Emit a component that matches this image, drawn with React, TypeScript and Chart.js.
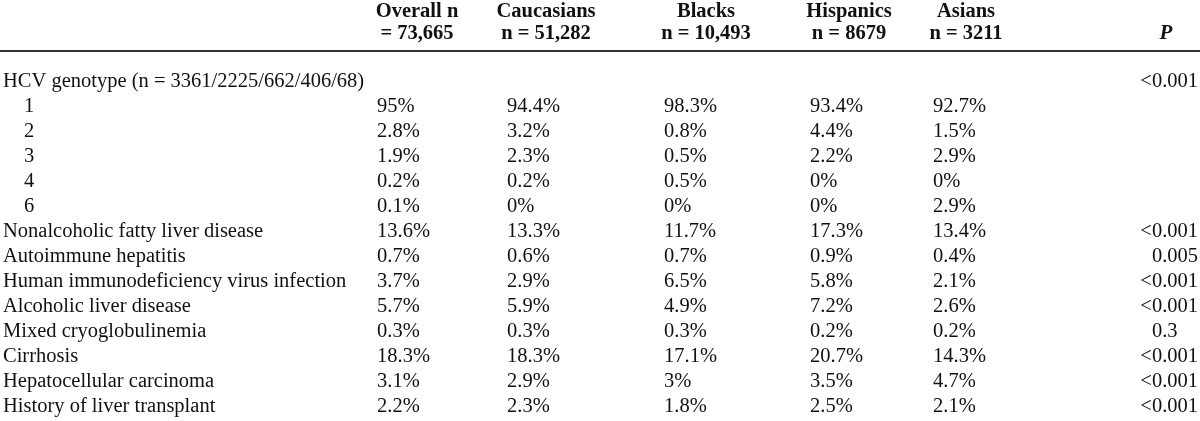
import React, { useEffect, useRef } from 'react';
import { Chart, registerables } from 'chart.js';

Chart.register(...registerables);

// ---------- data ----------
const ROW_LABELS = [
  'HCV genotype (n = 3361/2225/662/406/68)',
  '1',
  '2',
  '3',
  '4',
  '6',
  'Nonalcoholic fatty liver disease',
  'Autoimmune hepatitis',
  'Human immunodeficiency virus infection',
  'Alcoholic liver disease',
  'Mixed cryoglobulinemia',
  'Cirrhosis',
  'Hepatocellular carcinoma',
  'History of liver transplant',
];
const ROW_INDENT = [0, 1, 1, 1, 1, 1, 0, 0, 0, 0, 0, 0, 0, 0];

const GROUP_HEADERS = ['Overall n', 'Caucasians', 'Blacks', 'Hispanics', 'Asians'];
const GROUP_SIZES = ['= 73,665', 'n = 51,282', 'n = 10,493', 'n = 8679', 'n = 3211'];
const P_HEADER = 'P';

const OVERALL = [null, 95, 2.8, 1.9, 0.2, 0.1, 13.6, 0.7, 3.7, 5.7, 0.3, 18.3, 3.1, 2.2];
const CAUCASIANS = [null, 94.4, 3.2, 2.3, 0.2, 0, 13.3, 0.6, 2.9, 5.9, 0.3, 18.3, 2.9, 2.3];
const BLACKS = [null, 98.3, 0.8, 0.5, 0.5, 0, 11.7, 0.7, 6.5, 4.9, 0.3, 17.1, 3, 1.8];
const HISPANICS = [null, 93.4, 4.4, 2.2, 0, 0, 17.3, 0.9, 5.8, 7.2, 0.2, 20.7, 3.5, 2.5];
const ASIANS = [null, 92.7, 1.5, 2.9, 0, 2.9, 13.4, 0.4, 2.1, 2.6, 0.2, 14.3, 4.7, 2.1];
const P_VALUES = ['<0.001', '', '', '', '', '', '<0.001', '0.005', '<0.001', '<0.001', '0.3', '<0.001', '<0.001', '<0.001'];

const GROUP_VALUES = [OVERALL, CAUCASIANS, BLACKS, HISPANICS, ASIANS];

// ---------- layout (x-scale units) ----------
const X_MIN = 0;
const X_MAX = 1200;
const LABEL_X = 3;
const INDENT_X = 24;
const VALUE_X = [377, 507, 664, 810, 933];
const HEADER_X = [417, 546, 706, 849, 966];
const P_HEADER_X = 1166;
const P_RIGHT_X = 1198;

const FONT_FAMILY = "'Liberation Serif', 'Times New Roman', serif";
const BODY_FONT = `20.5px ${FONT_FAMILY}`;
const HEAD_FONT = `bold 20.5px ${FONT_FAMILY}`;
const HEAD_P_FONT = `italic bold 21px ${FONT_FAMILY}`;
const TEXT_COLOR = '#111111';
const RULE_COLOR = '#333333';

const fmt = (v: number | null) => (v === null || v === undefined ? '' : `${v}%`);

const tablePlugin = {
  id: 'tableText',
  afterDraw(chart: any) {
    const { ctx, chartArea } = chart;
    const x = chart.scales.x;
    const y = chart.scales.y;
    ctx.save();
    ctx.fillStyle = TEXT_COLOR;
    ctx.textBaseline = 'middle';

    // header
    const h1 = chartArea.top - 58;
    const h2 = chartArea.top - 36;
    ctx.font = HEAD_FONT;
    ctx.textAlign = 'center';
    GROUP_HEADERS.forEach((t, i) => {
      ctx.fillText(t, x.getPixelForValue(HEADER_X[i]), h1);
      ctx.fillText(GROUP_SIZES[i], x.getPixelForValue(HEADER_X[i]), h2);
    });
    ctx.font = HEAD_P_FONT;
    ctx.fillText(P_HEADER, x.getPixelForValue(P_HEADER_X), h2);

    // rule
    ctx.strokeStyle = RULE_COLOR;
    ctx.lineWidth = 2;
    ctx.beginPath();
    const ry = chartArea.top - 18.5;
    ctx.moveTo(x.getPixelForValue(X_MIN), ry);
    ctx.lineTo(x.getPixelForValue(X_MAX), ry);
    ctx.stroke();

    // body
    ctx.font = BODY_FONT;
    ROW_LABELS.forEach((label, r) => {
      const py = y.getPixelForValue(r);
      ctx.textAlign = 'left';
      ctx.fillText(label, x.getPixelForValue(ROW_INDENT[r] ? INDENT_X : LABEL_X), py);
      GROUP_VALUES.forEach((arr, c) => {
        const s = fmt(arr[r] as any);
        if (s) ctx.fillText(s, x.getPixelForValue(VALUE_X[c]), py);
      });
    });

    // P column, decimal aligned
    const fracW = Math.max(
      ...P_VALUES.filter((s) => s.includes('.')).map((s) => ctx.measureText(s.slice(s.indexOf('.'))).width)
    );
    const decX = x.getPixelForValue(P_RIGHT_X) - fracW;
    ctx.textAlign = 'left';
    P_VALUES.forEach((s, r) => {
      if (!s) return;
      const py = y.getPixelForValue(r);
      const pre = s.slice(0, s.indexOf('.'));
      ctx.fillText(s, decX - ctx.measureText(pre).width, py);
    });
    ctx.restore();
  },
};

export default function App() {
  const ref = useRef<HTMLCanvasElement | null>(null);
  useEffect(() => {
    if (!ref.current) return;
    const chart = new Chart(ref.current, {
      type: 'scatter',
      data: { datasets: [] },
      options: {
        animation: false,
        responsive: false,
        maintainAspectRatio: false,
        layout: { padding: { top: 69.5, bottom: 1.5, left: 0, right: 0 } },
        plugins: { legend: { display: false }, tooltip: { enabled: false } },
        scales: {
          x: { type: 'linear', min: X_MIN, max: X_MAX, display: false },
          y: { type: 'category', labels: ROW_LABELS, offset: true, display: false },
        },
      },
      plugins: [tablePlugin],
    } as any);
    return () => chart.destroy();
  }, []);
  return (
    <div style={{ position: 'absolute', left: 0, top: 0, width: 1200, height: 421, background: '#fff' }}>
      <canvas ref={ref} width={1200} height={421} />
    </div>
  );
}
